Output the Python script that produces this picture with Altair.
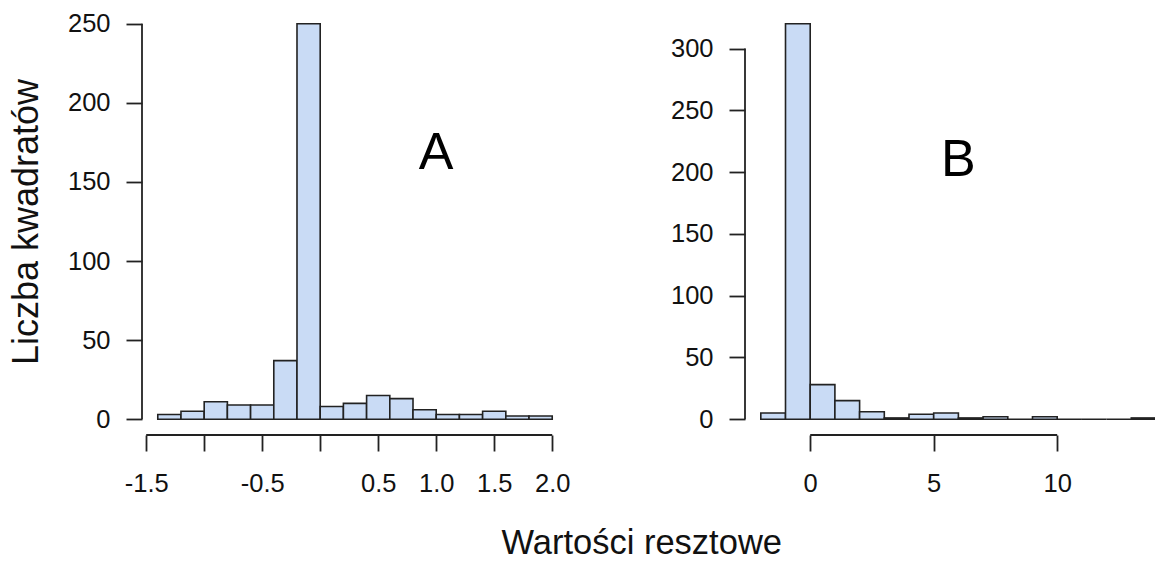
import altair as alt
import pandas as pd

# ---- data ----
a_edges = [-1.4, -1.2, -1.0, -0.8, -0.6, -0.4, -0.2, 0.0, 0.2, 0.4, 0.6, 0.8, 1.0, 1.2, 1.4, 1.6, 1.8, 2.0]
a_counts = [3, 5, 11, 9, 9, 37, 250, 8, 10, 15, 13, 6, 3, 3, 5, 2, 2]
a_xticks = [-1.5, -1.0, -0.5, 0.0, 0.5, 1.0, 1.5, 2.0]
a_yticks = [0, 50, 100, 150, 200, 250]

b_edges = [-2, -1, 0, 1, 2, 3, 4, 5, 6, 7, 8, 9, 10, 11, 12, 13, 14]
b_counts = [5, 320, 28, 15, 6, 1, 4, 5, 1, 2, 0, 2, 0, 0, 0, 1]
b_xticks = [0, 5, 10]
b_yticks = [0, 50, 100, 150, 200, 250, 300]

panel_labels = ["A", "B"]
label_x = [1.0, 6.0]
label_y = [168, 210]

y_title = "Liczba kwadratów"
x_title = "Wartości resztowe"

FONT = "Liberation Sans"
FILL = "#C9DBF5"
INK = "#222222"


def panel(edges, counts, xdom, ydom, xticks, yticks, label, lx, ly, width, height,
          ytitle, label_expr):
    df = pd.DataFrame({"lo": edges[:-1], "hi": edges[1:], "n": counts})
    xs = alt.Scale(domain=xdom, nice=False, zero=False)
    ys = alt.Scale(domain=ydom, nice=False, zero=False)

    xaxis = alt.Axis(values=xticks, domain=False, grid=False, tickSize=16, tickWidth=1.8,
                     tickColor=INK, labelFontSize=25.5, labelFont=FONT, labelColor="#111111",
                     labelPadding=20, title=None, labelExpr=label_expr, labelFlush=False,
                     labelOverlap=False)
    yaxis_kw = dict(values=yticks, domain=False, grid=False, tickSize=16, tickWidth=1.8,
                    tickColor=INK, labelFontSize=25.5, labelFont=FONT, labelColor="#111111",
                    labelPadding=16, labelFlush=False, labelOverlap=False,
                    labelBaseline="middle")
    if ytitle:
        yaxis = alt.Axis(title=ytitle, titleFont=FONT, titleFontSize=36, titleFontWeight="normal",
                         titleColor="#111111", titlePadding=22, **yaxis_kw)
    else:
        yaxis = alt.Axis(title=None, **yaxis_kw)

    bars = alt.Chart(df).mark_rect(fill=FILL, stroke=INK, strokeWidth=1.6, clip=True).encode(
        x=alt.X("lo:Q", scale=xs, axis=xaxis),
        x2="hi:Q",
        y=alt.Y("n:Q", scale=ys, axis=yaxis),
        y2=alt.datum(0),
    )

    xline = pd.DataFrame({"a": [xticks[0]], "b": [xticks[-1]], "y": [ydom[0]]})
    xrule = alt.Chart(xline).mark_rule(color=INK, strokeWidth=1.8).encode(
        x=alt.X("a:Q", scale=xs), x2="b:Q", y=alt.Y("y:Q", scale=ys))

    yline = pd.DataFrame({"a": [yticks[0]], "b": [yticks[-1]], "x": [xdom[0]]})
    yrule = alt.Chart(yline).mark_rule(color=INK, strokeWidth=1.8).encode(
        y=alt.Y("a:Q", scale=ys), y2="b:Q", x=alt.X("x:Q", scale=xs))

    tdf = pd.DataFrame({"t": [label], "x": [lx], "y": [ly]})
    txt = alt.Chart(tdf).mark_text(font=FONT, fontSize=52, color="#000000",
                                   baseline="middle", align="center").encode(
        x=alt.X("x:Q", scale=xs), y=alt.Y("y:Q", scale=ys), text="t:N")

    return alt.layer(bars, xrule, yrule, txt).properties(width=width, height=height)


a_expr = ("datum.value == -1 || datum.value == 0 ? '' : "
          "(datum.value < 0 ? '-' + format(-datum.value, '.1f') : format(datum.value, '.1f'))")
b_expr = "format(datum.value, 'd')"

pa = panel(a_edges, a_counts, [-1.536, 2.136], [-10, 260], a_xticks, a_yticks,
           panel_labels[0], label_x[0], label_y[0], 426, 427, y_title, a_expr)
pb = panel(b_edges, b_counts, [-2.64, 13.96], [-12.8, 332.8], b_xticks, b_yticks,
           panel_labels[1], label_x[1], label_y[1], 410, 427, None, b_expr)

chart = alt.hconcat(pa, pb, spacing=100).properties(
    padding={"left": 8, "top": 8, "right": 0, "bottom": 0},
    title=alt.TitleParams(x_title, orient="bottom", anchor="middle", font=FONT, fontSize=34.5,
                          fontWeight="normal", color="#111111", offset=30, dx=60),
).configure(background="white", view=alt.ViewConfig(stroke="transparent", strokeWidth=0))

chart.save("out.html", embed_options={"renderer": "svg", "actions": False})
